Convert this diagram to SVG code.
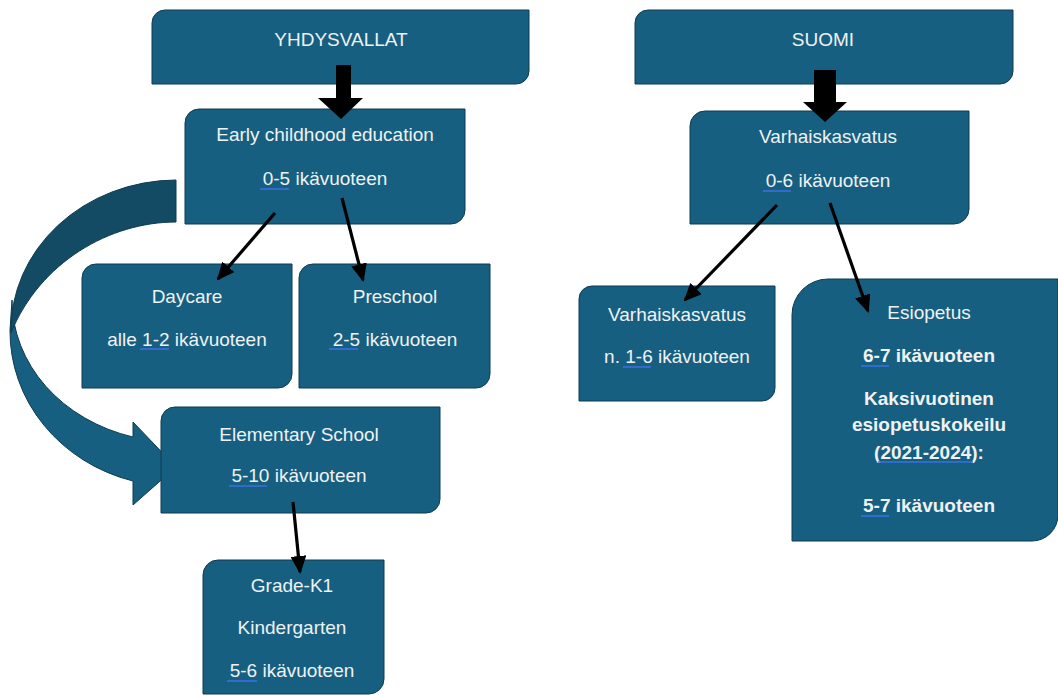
<svg xmlns="http://www.w3.org/2000/svg" width="1058" height="695" viewBox="0 0 1058 695">
<style>
.box{fill:#175f80;stroke:#0e3b50;stroke-width:1}
.t{font-family:"Liberation Sans",Arial,sans-serif;font-size:19px;fill:#eef2f4;text-anchor:middle}
.b{font-weight:bold}
.ul{stroke:#3b6fe0;stroke-width:1.6}
.conn{stroke:#000;stroke-width:3.2;fill:none}
</style>
<defs>
<marker id="ah" markerUnits="userSpaceOnUse" markerWidth="18" markerHeight="16" viewBox="0 0 18 16" refX="16" refY="8" orient="auto">
<path d="M0,0 L18,8 L0,16 Z" fill="#000"/>
</marker>
</defs>
<rect width="1058" height="695" fill="#fff"/>

<g id="curved-arrow">
<path d="M10,330 A166,155 0 0 0 133,481 L133,505 L176,467 L133,422 L133,437 A164,142 0 0 1 12,300 Z" fill="#175f80" stroke="#0e3b50" stroke-width="1"/>
<path d="M176,180 A166,150 0 0 0 11,333 C40,262 110,222 176,222 Z" fill="#134b65" stroke="#0e3b50" stroke-width="1"/>
</g>

<g id="yhdysvallat">
<path class="box" d="M152,23 A13,13 0 0 1 165,10 L529,10 L529,71 A13,13 0 0 1 516,84 L152,84 Z"/>
<text class="t" x="341" y="46">YHDYSVALLAT</text>
</g>

<g id="early">
<path class="box" d="M185,123 A14,14 0 0 1 199,109 L465,109 L465,210 A14,14 0 0 1 451,224 L185,224 Z"/>
<text class="t" x="325" y="141">Early childhood education</text>
<text class="t" x="325" y="185">0-5 ikävuoteen</text>
<line class="ul" x1="260" y1="189" x2="289" y2="189"/>
</g>

<g id="daycare">
<path class="box" d="M82,278 A14,14 0 0 1 96,264 L292,264 L292,374 A14,14 0 0 1 278,388 L82,388 Z"/>
<text class="t" x="187" y="303">Daycare</text>
<text class="t" x="187" y="346">alle 1-2 ikävuoteen</text>
<line class="ul" x1="140" y1="349" x2="169" y2="349"/>
</g>

<g id="preschool">
<path class="box" d="M299,278 A14,14 0 0 1 313,264 L490,264 L490,374 A14,14 0 0 1 476,388 L299,388 Z"/>
<text class="t" x="395" y="303">Preschool</text>
<text class="t" x="395" y="346">2-5 ikävuoteen</text>
<line class="ul" x1="329" y1="349" x2="358" y2="349"/>
</g>

<g id="elementary">
<path class="box" d="M161,421 A14,14 0 0 1 175,407 L440,407 L440,499 A14,14 0 0 1 426,513 L161,513 Z"/>
<text class="t" x="299" y="441">Elementary School</text>
<text class="t" x="299" y="482">5-10 ikävuoteen</text>
<line class="ul" x1="229" y1="486" x2="267" y2="486"/>
</g>

<g id="gradek1">
<path class="box" d="M203,575 A15,15 0 0 1 218,560 L384,560 L384,679 A15,15 0 0 1 369,694 L203,694 Z"/>
<text class="t" x="292" y="592">Grade-K1</text>
<text class="t" x="292" y="634">Kindergarten</text>
<text class="t" x="292" y="677">5-6 ikävuoteen</text>
<line class="ul" x1="227" y1="681" x2="257" y2="681"/>
</g>

<g id="suomi">
<path class="box" d="M635,23 A13,13 0 0 1 648,10 L1013,10 L1013,71 A13,13 0 0 1 1000,84 L635,84 Z"/>
<text class="t" x="823" y="46">SUOMI</text>
</g>

<g id="varhaiskasvatus-top">
<path class="box" d="M690,126 A15,15 0 0 1 705,111 L969,111 L969,209 A15,15 0 0 1 954,224 L690,224 Z"/>
<text class="t" x="828" y="143">Varhaiskasvatus</text>
<text class="t" x="828" y="187">0-6 ikävuoteen</text>
<line class="ul" x1="763" y1="191" x2="791" y2="191"/>
</g>

<g id="varhaiskasvatus-small">
<path class="box" d="M579,299 A13,13 0 0 1 592,286 L775,286 L775,388 A13,13 0 0 1 762,401 L579,401 Z"/>
<text class="t" x="677" y="321">Varhaiskasvatus</text>
<text class="t" x="677" y="363">n. 1-6 ikävuoteen</text>
<line class="ul" x1="623" y1="367" x2="651" y2="367"/>
</g>

<g id="esiopetus">
<path class="box" d="M792,315 A36,36 0 0 1 828,279 L1058,279 L1058,515 A26,26 0 0 1 1032,541 L792,541 Z"/>
<text class="t" x="929" y="319">Esiopetus</text>
<text class="t b" x="929" y="362">6-7 ikävuoteen</text>
<text class="t b" x="929" y="405">Kaksivuotinen</text>
<text class="t b" x="929" y="431">esiopetuskokeilu</text>
<text class="t b" x="929" y="459">(2021-2024):</text>
<text class="t b" x="929" y="512">5-7 ikävuoteen</text>
<line class="ul" x1="861" y1="366" x2="889" y2="366"/>
<line class="ul" x1="878" y1="462" x2="973" y2="462"/>
<line class="ul" x1="861" y1="516" x2="889" y2="516"/>
</g>

<g id="connectors">
<path d="M336,65 L351,65 L351,98 L363,98 L341,119 L318,98 L336,98 Z" fill="#000"/>
<path d="M814,70 L836,70 L836,102 L847,102 L825,122 L803,102 L814,102 Z" fill="#000"/>
<line class="conn" x1="275" y1="213" x2="218" y2="279" marker-end="url(#ah)"/>
<line class="conn" x1="342" y1="198" x2="363" y2="280" marker-end="url(#ah)"/>
<line class="conn" x1="293" y1="502" x2="300" y2="572" marker-end="url(#ah)"/>
<line class="conn" x1="777" y1="205" x2="685" y2="300" marker-end="url(#ah)"/>
<line class="conn" x1="830" y1="203" x2="868" y2="311" marker-end="url(#ah)"/>
</g>
</svg>
